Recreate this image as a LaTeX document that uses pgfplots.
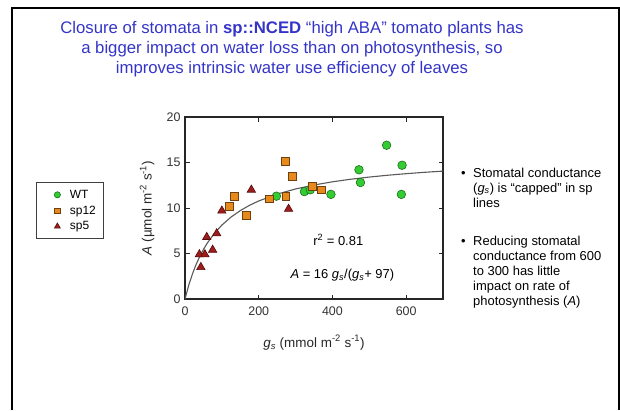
\documentclass[border=0pt]{standalone}
\usepackage{fontspec}
\setmainfont{Liberation Sans}
\usepackage{pgfplots}
\pgfplotsset{compat=1.18}

\definecolor{titleblue}{HTML}{3434C8}
\definecolor{wtfill}{HTML}{33CC33}
\definecolor{wtdraw}{HTML}{1E6E1E}
\definecolor{spofill}{HTML}{E8891C}
\definecolor{spodraw}{HTML}{6E4210}
\definecolor{sprfill}{HTML}{A01C1C}
\definecolor{sprdraw}{HTML}{520C0C}

\begin{document}
\begin{tikzpicture}[x=1bp,y=1bp]
\useasboundingbox (0,0) rectangle (620,410);
% slide frame
\draw[line width=1.6bp] (12,0) -- (12,402) -- (619,402) -- (619,0);

% title
\begin{scope}[every node/.style={anchor=base, inner sep=0pt, text=titleblue,
    font=\fontsize{16.8}{20}\selectfont}]
\node at (292,377) {Closure of stomata in \textbf{sp::NCED} “high ABA” tomato plants has};
\node at (292,357) {a bigger impact on water loss than on photosynthesis, so};
\node at (292,337) {improves intrinsic water use efficiency of leaves};
\end{scope}

% bullet text
\begin{scope}[every node/.style={anchor=base west, inner sep=0pt,
    font=\fontsize{13}{15}\selectfont}]
\node at (461,233) {•};
\node at (473,233) {Stomatal conductance};
\node at (473,218) {(\textit{g\textsubscript{s}}) is “capped” in sp};
\node at (473,203) {lines};
\node at (461,165) {•};
\node at (473,165) {Reducing stomatal};
\node at (473,150) {conductance from 600};
\node at (473,135) {to 300 has little};
\node at (473,120) {impact on rate of};
\node at (473,105) {photosynthesis (\textit{A})};
\end{scope}

\begin{axis}[
    at={(185bp,111bp)},
    anchor=south west,
    scale only axis,
    width=258bp,
    height=182bp,
    xmin=0, xmax=700,
    ymin=0, ymax=20,
    xtick={0,200,400,600},
    ytick={0,5,10,15,20},
    axis line style={line width=1.1bp, black!85},
    major tick style={line width=0.8bp, black!85},
    major tick length=4.5bp,
    tick label style={font=\fontsize{12.5}{14}\selectfont, text=black!80},
    xticklabel style={yshift=-4bp},
    yticklabel style={xshift=-1bp},
    /pgf/number format/assume math mode=true,
    xlabel={\textit{g\textsubscript{s}} (mmol m\textsuperscript{-2} s\textsuperscript{-1})},
    ylabel={\textit{A} (µmol m\textsuperscript{-2} s\textsuperscript{-1})},
    label style={font=\fontsize{13.5}{15}\selectfont, text=black!85},
    xlabel style={at={(axis description cs:0.5,-0.24)}, anchor=center},
    ylabel style={at={(axis description cs:-0.147,0.5)}, anchor=center},
    legend image code/.code={
        \draw[#1, every mark/.append style={scale=0.72}] plot coordinates {(15bp,0)};
        \path[draw=none, fill=none] (0,-3bp) (26bp,3bp);
    },
    legend style={
        at={(axis description cs:-0.578,0.643)},
        anchor=north west,
        draw=black!75,
        line width=1bp,
        fill=white,
        font=\fontsize{12}{14}\selectfont,
        inner xsep=6bp,
        inner ysep=6bp,
        row sep=3bp,
        legend cell align=left,
        nodes={inner sep=1.5bp},
        /tikz/every even column/.append style={column sep=9bp}
    },
]

% fitted curve A = 16 gs/(gs + 97)
\addplot[black!65, line width=1.1bp, forget plot] coordinates {
    (0,0) (10,1.495) (20,2.735) (30,3.780) (40,4.672) (50,5.442) (60,6.115)
    (80,7.232) (100,8.122) (125,9.009) (150,9.717) (175,10.294) (200,10.774)
    (250,11.527) (300,12.091) (350,12.528) (400,12.877) (450,13.163)
    (500,13.400) (550,13.601) (600,13.773) (650,13.922) (700,14.053)
};

\addplot[only marks, mark=*, mark size=4.3bp,
    mark options={fill=wtfill, draw=wtdraw, line width=0.6bp}] coordinates {
    (248,11.3) (324,11.8) (340,12.0) (396,11.5) (472,14.2)
    (476,12.8) (547,16.9) (589,14.7) (587,11.5)
};
\addlegendentry{WT}

\addplot[only marks, mark=square*, mark size=3.8bp,
    mark options={fill=spofill, draw=spodraw, line width=0.6bp}] coordinates {
    (120,10.2) (134,11.3) (167,9.2) (229,11.0) (272,15.1)
    (274,11.3) (291,13.5) (346,12.4) (370,12.0)
};
\addlegendentry{sp12}

\addplot[only marks, mark=triangle*, mark size=4.8bp,
    mark options={fill=sprfill, draw=sprdraw, line width=0.6bp}] coordinates {
    (39,4.9) (54,4.9) (43,3.5) (59,6.8) (75,5.4)
    (86,7.2) (100,9.7) (180,12.0) (281,9.9)
};
\addlegendentry{sp5}

\node[font=\fontsize{13}{15}\selectfont] at (axis cs:416,6.5) {r\textsuperscript{2} = 0.81};
\node[font=\fontsize{13}{15}\selectfont] at (axis cs:427,2.6)
    {\textit{A} = 16 \textit{g\textsubscript{s}}/(\textit{g\textsubscript{s}}+ 97)};
\end{axis}
\end{tikzpicture}
\end{document}
